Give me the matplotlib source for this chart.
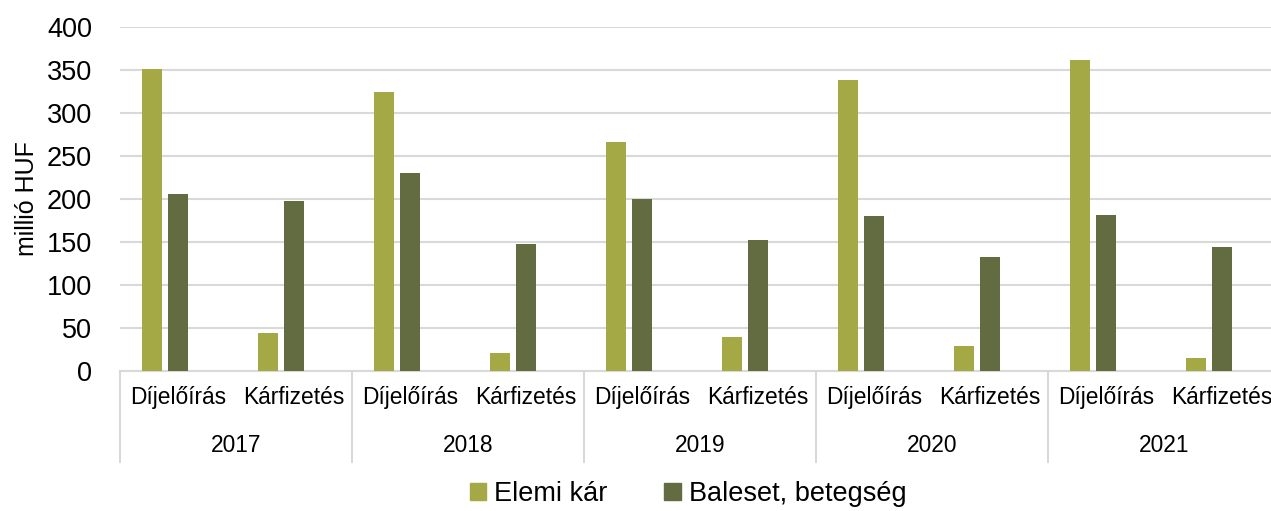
import matplotlib
matplotlib.use("Agg")
import matplotlib.pyplot as plt
import matplotlib.transforms as mtransforms
from matplotlib.patches import Patch

plt.rcParams['font.family'] = ['Liberation Sans', 'DejaVu Sans']

# data
years = ["2017", "2018", "2019", "2020", "2021"]
kinds = ["Díjelőírás", "Kárfizetés"]
elemi = [351, 44, 325, 21, 266, 39, 338, 29, 362, 15]      # Elemi kár
baleset = [206, 198, 230, 148, 200, 152, 180, 133, 181, 144]  # Baleset, betegség
yticks = [0, 50, 100, 150, 200, 250, 300, 350, 400]

LIGHT = "#A4A845"
DARK = "#636B41"
GRID = "#D9D9D9"

fig = plt.figure(figsize=(12.71, 5.11), dpi=100)
ax = fig.add_axes([120 / 1271, 140 / 511, 1160 / 1271, 344 / 511])

ncat = len(years) * len(kinds)
xs = list(range(ncat))
bw = 0.172
step = 0.224
ax.bar([x - step for x in xs], elemi, width=bw, color=LIGHT, zorder=3)
ax.bar(xs, baleset, width=bw, color=DARK, zorder=3)

ax.set_xlim(-0.5, ncat - 0.5)
ax.set_ylim(0, 400)
ax.set_yticks(yticks)
ax.tick_params(axis='y', labelsize=19.5, length=0, pad=20)
ax.tick_params(axis='x', length=0, labelbottom=False)
ax.yaxis.grid(True, color=GRID, linewidth=1.5, zorder=0)
for s in ["top", "right", "left"]:
    ax.spines[s].set_visible(False)
ax.spines["bottom"].set_color(GRID)
ax.spines["bottom"].set_linewidth(1.5)
ax.set_ylabel("millió HUF", fontsize=18, labelpad=6)

# two-level category axis
trans = mtransforms.blended_transform_factory(ax.transData, ax.transAxes)
for i in xs:
    ax.text(i, -0.0756, kinds[i % 2], transform=trans, ha="center", va="center", fontsize=16.4)
for j, y in enumerate(years):
    ax.text(2 * j + 0.5, -0.218, y, transform=trans, ha="center", va="center", fontsize=16.4)
for j in range(len(years) + 1):
    ax.plot([2 * j - 0.5, 2 * j - 0.5], [0, -0.265], transform=trans, color=GRID,
            linewidth=1.5, clip_on=False)

handles = [Patch(color=LIGHT), Patch(color=DARK)]
fig.legend(handles, ["Elemi kár", "Baleset, betegség"], loc="center",
           bbox_to_anchor=(688 / 1271, 17 / 511), ncol=2, frameon=False,
           fontsize=19.5, handlelength=0.6, handleheight=0.6, handletextpad=0.3,
           columnspacing=2.1, borderaxespad=0)

fig.savefig("out.png", dpi=100)
